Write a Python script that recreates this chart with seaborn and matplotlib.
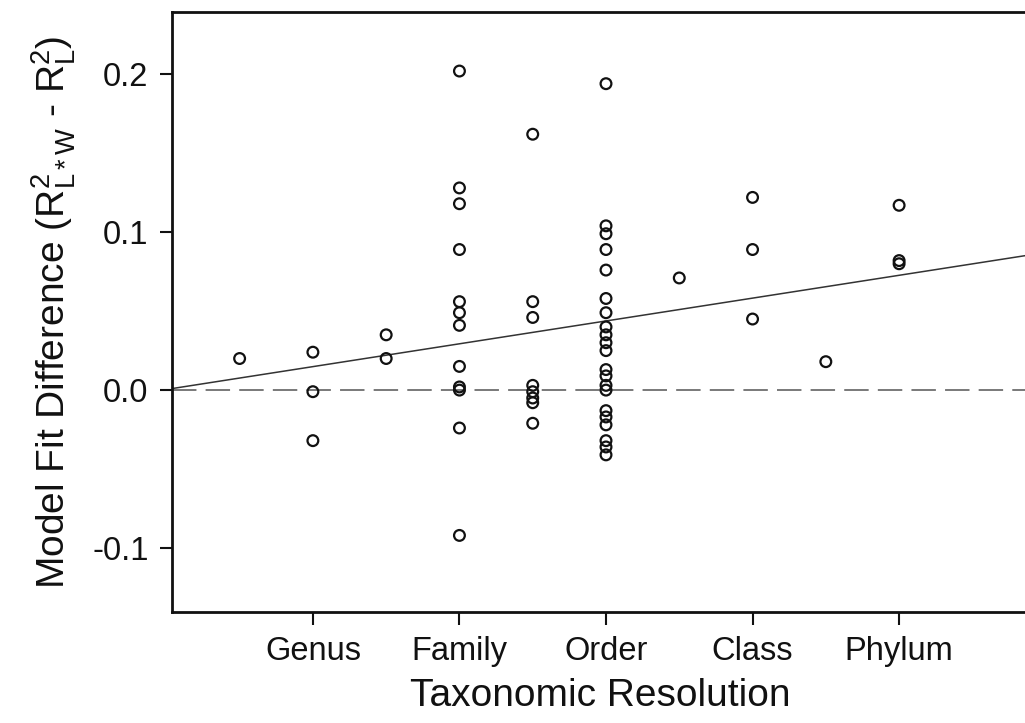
import matplotlib
matplotlib.use("Agg")
import matplotlib.pyplot as plt
import seaborn as sns
import pandas as pd
import numpy as np

# ── data ─────────────────────────────────────────────────────
# x position: Genus=1, Family=2, Order=3, Class=4, Phylum=5 (half steps = in-between ranks)
tick_pos = [1, 2, 3, 4, 5]
tick_labels = ["Genus", "Family", "Order", "Class", "Phylum"]

diff_0_5 = [0.020]
diff_genus = [0.024, -0.001, -0.032]
diff_1_5 = [0.035, 0.020]
diff_family = [0.202, 0.128, 0.118, 0.089, 0.056, 0.049, 0.041, 0.015,
               0.002, 0.000, -0.024, -0.092]
diff_2_5 = [0.162, 0.056, 0.046, 0.003, -0.001, -0.005, -0.008, -0.021]
diff_order = [0.194, 0.104, 0.099, 0.089, 0.076, 0.058, 0.049, 0.040,
              0.035, 0.030, 0.025, 0.013, 0.009, 0.003, 0.000, -0.013,
              -0.017, -0.022, -0.032, -0.036, -0.041]
diff_3_5 = [0.071]
diff_class = [0.122, 0.089, 0.045]
diff_4_5 = [0.018]
diff_phylum = [0.117, 0.082, 0.080]

groups = {
    0.5: diff_0_5, 1.0: diff_genus, 1.5: diff_1_5, 2.0: diff_family,
    2.5: diff_2_5, 3.0: diff_order, 3.5: diff_3_5, 4.0: diff_class,
    4.5: diff_4_5, 5.0: diff_phylum,
}
df = pd.DataFrame(
    [(k, v) for k, vals in groups.items() for v in vals],
    columns=["resolution", "fit_diff"],
)

# ── plot ─────────────────────────────────────────────────────
sns.set_style("ticks")
plt.rcParams["font.family"] = ["Liberation Sans", "DejaVu Sans"]
plt.rcParams["mathtext.fontset"] = "custom"
plt.rcParams["mathtext.rm"] = "Liberation Sans"
plt.rcParams["mathtext.it"] = "Liberation Sans"
plt.rcParams["text.color"] = "#111111"
plt.rcParams["axes.labelcolor"] = "#111111"
plt.rcParams["xtick.color"] = "#111111"
plt.rcParams["ytick.color"] = "#111111"

fig = plt.figure(figsize=(10.25, 7.23), dpi=100)
ax = fig.add_axes([0.168, 0.1535, 0.835, 0.8295])

# limits first so the fitted line spans the whole axis
ax.set_xlim(0.04, 5.88)
ax.set_ylim(-0.1405, 0.2392)

ax.axhline(0, color="#555555", lw=1.1, linestyle=(0, (16, 6)), zorder=1)

sns.regplot(data=df, x="resolution", y="fit_diff", scatter=False, ci=None,
            truncate=False, color="#333333", line_kws={"lw": 1.1}, ax=ax)

sns.scatterplot(data=df, x="resolution", y="fit_diff", marker="o", s=60,
                facecolor="none", edgecolor="#111111", linewidth=1.6,
                ax=ax, zorder=3)

ax.set_xlim(0.04, 5.88)
ax.set_ylim(-0.1405, 0.2392)
ax.set_xticks(tick_pos)
ax.set_xticklabels(tick_labels)
ax.set_yticks([-0.1, 0.0, 0.1, 0.2])
ax.set_yticklabels(["-0.1", "0.0", "0.1", "0.2"])

ax.set_xlabel("Taxonomic Resolution", fontsize=28, labelpad=8)
ax.set_ylabel(r"Model Fit Difference (R$^2_{\mathregular{L*W}}$ - R$^2_{\mathregular{L}}$)",
              fontsize=28, labelpad=10)
ax.tick_params(axis="both", labelsize=23.5, length=9, width=1.5, direction="out",
               color="#111111", pad=8)

for side in ["left", "bottom", "top"]:
    ax.spines[side].set_linewidth(2.0)
    ax.spines[side].set_color("#111111")
ax.spines["right"].set_visible(False)

fig.savefig("out.png", dpi=100)
